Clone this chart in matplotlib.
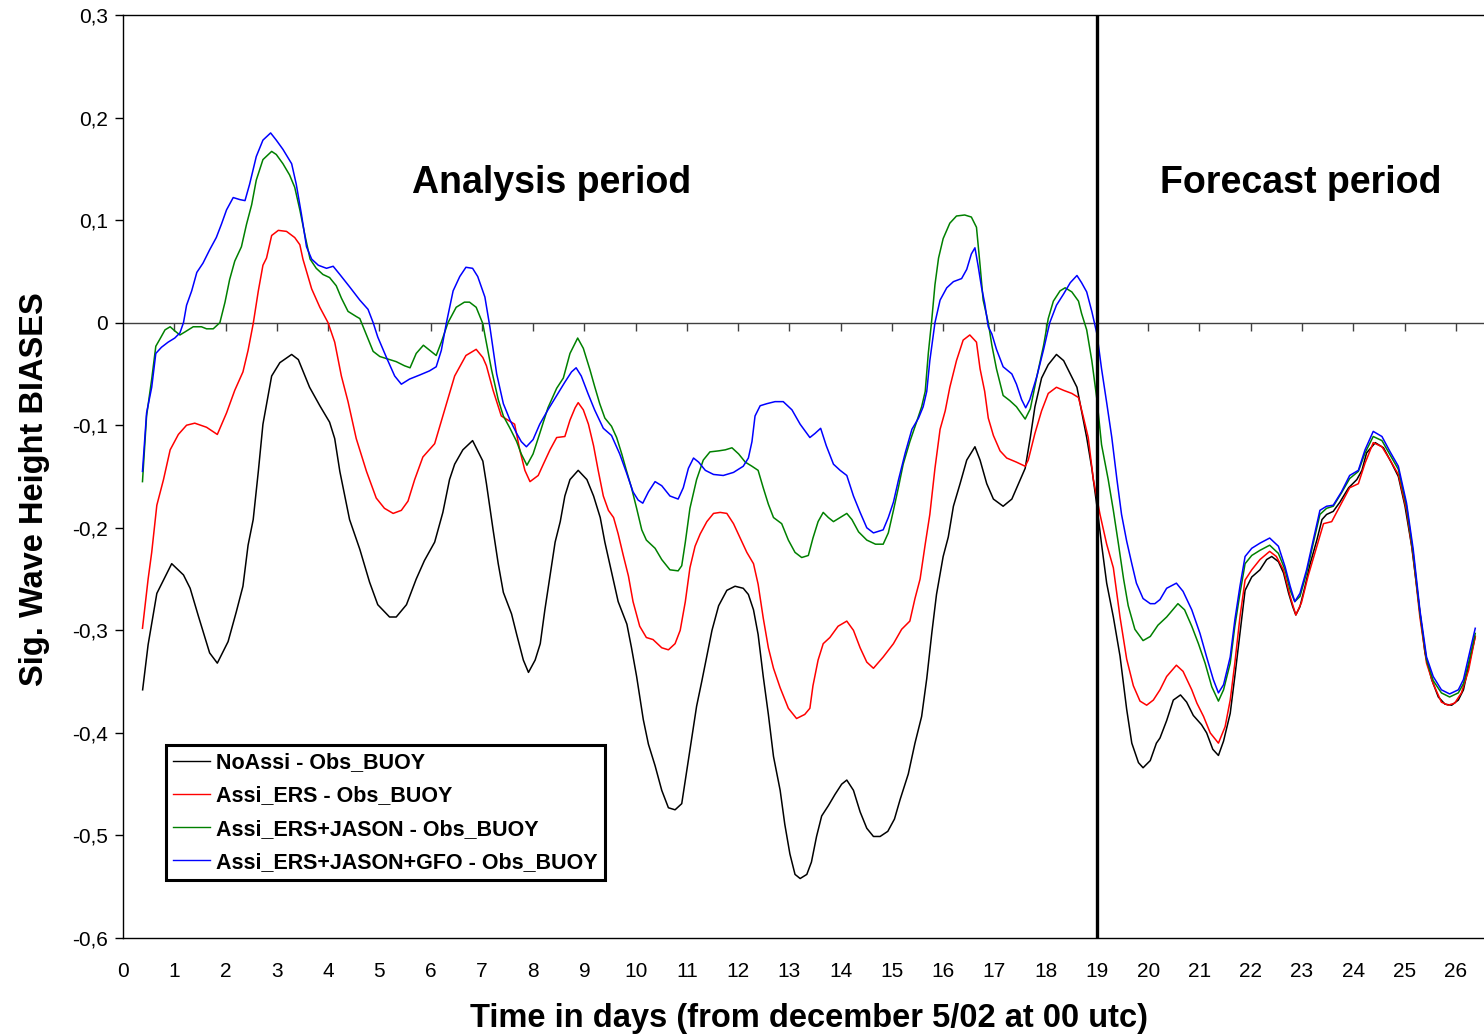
import numpy as np
import matplotlib
matplotlib.use("Agg")
import matplotlib.pyplot as plt
from matplotlib.ticker import FuncFormatter

plt.rcParams['font.family'] = ['Liberation Sans', 'DejaVu Sans']

# ---------------- data ----------------
noassi_days = [0.383, 0.49, 0.66, 0.95, 1.18, 1.31, 1.47, 1.69, 1.84, 2.05, 2.21, 2.34, 2.44, 2.54, 2.64, 2.73,
               2.90, 3.06, 3.29, 3.42, 3.64, 3.84, 4.03, 4.13, 4.23, 4.42, 4.62, 4.81, 4.97, 5.20, 5.33, 5.53,
               5.72, 5.88, 6.08, 6.24, 6.37, 6.47, 6.63, 6.82, 7.02, 7.09, 7.22, 7.32, 7.42, 7.58, 7.68, 7.81,
               7.91, 8.04, 8.14, 8.23, 8.33, 8.43, 8.53, 8.62, 8.72, 8.88, 9.05, 9.18, 9.31, 9.40, 9.53, 9.66,
               9.83, 9.92, 10.02, 10.15, 10.25, 10.38, 10.51, 10.64, 10.77, 10.90, 11.00, 11.10, 11.19, 11.29,
               11.39, 11.49, 11.62, 11.78, 11.94, 12.10, 12.20, 12.30, 12.39, 12.49, 12.59, 12.69, 12.82, 12.91,
               13.01, 13.11, 13.21, 13.34, 13.43, 13.53, 13.63, 13.76, 13.89, 14.02, 14.12, 14.25, 14.38, 14.51,
               14.64, 14.77, 14.92, 15.05, 15.16, 15.32, 15.45, 15.58, 15.68, 15.78, 15.87, 16.00, 16.10, 16.20,
               16.33, 16.46, 16.62, 16.72, 16.85, 16.98, 17.17, 17.34, 17.47, 17.60, 17.70, 17.79, 17.92, 18.05,
               18.21, 18.35, 18.48, 18.61, 18.70, 18.80, 18.90, 19.00, 19.09, 19.19, 19.32, 19.45, 19.58, 19.68,
               19.81, 19.90, 20.04, 20.16, 20.23, 20.36, 20.49, 20.63, 20.75, 20.88, 21.04, 21.14, 21.26, 21.37,
               21.47, 21.60, 21.69, 21.79, 21.89, 22.02, 22.18, 22.31, 22.41, 22.54, 22.64, 22.74, 22.82, 22.88,
               22.96, 23.06, 23.16, 23.29, 23.39, 23.48, 23.61, 23.74, 23.91, 24.07, 24.17, 24.26, 24.43, 24.59,
               24.75, 24.88, 25.01, 25.14, 25.27, 25.40, 25.53, 25.66, 25.79, 25.92, 26.05, 26.15, 26.25, 26.38]
noassi_bias = [-0.358, -0.314, -0.264, -0.235, -0.246, -0.259, -0.286, -0.322, -0.332, -0.311, -0.282, -0.257,
               -0.217, -0.192, -0.145, -0.099, -0.052, -0.039, -0.031, -0.036, -0.063, -0.081, -0.097, -0.113,
               -0.145, -0.192, -0.221, -0.253, -0.275, -0.287, -0.287, -0.275, -0.250, -0.232, -0.214, -0.185,
               -0.153, -0.138, -0.124, -0.115, -0.135, -0.157, -0.202, -0.235, -0.263, -0.284, -0.304, -0.329,
               -0.341, -0.329, -0.313, -0.280, -0.247, -0.214, -0.194, -0.169, -0.153, -0.144, -0.153, -0.169,
               -0.190, -0.214, -0.243, -0.272, -0.294, -0.317, -0.345, -0.387, -0.411, -0.432, -0.456, -0.473,
               -0.475, -0.469, -0.436, -0.403, -0.374, -0.350, -0.325, -0.300, -0.276, -0.261, -0.257, -0.259,
               -0.265, -0.280, -0.304, -0.345, -0.382, -0.423, -0.456, -0.489, -0.518, -0.538, -0.542, -0.538,
               -0.526, -0.501, -0.481, -0.471, -0.460, -0.450, -0.446, -0.456, -0.477, -0.493, -0.501, -0.501,
               -0.496, -0.484, -0.465, -0.440, -0.410, -0.384, -0.347, -0.302, -0.265, -0.228, -0.209, -0.179,
               -0.157, -0.134, -0.121, -0.134, -0.157, -0.172, -0.179, -0.172, -0.157, -0.142, -0.112, -0.082,
               -0.054, -0.041, -0.031, -0.037, -0.050, -0.063, -0.086, -0.112, -0.142, -0.179, -0.216, -0.254,
               -0.287, -0.325, -0.377, -0.410, -0.429, -0.434, -0.427, -0.410, -0.405, -0.388, -0.368, -0.363,
               -0.370, -0.383, -0.392, -0.400, -0.416, -0.422, -0.408, -0.381, -0.345, -0.303, -0.261, -0.248,
               -0.241, -0.231, -0.228, -0.233, -0.244, -0.264, -0.277, -0.285, -0.277, -0.257, -0.235, -0.212,
               -0.192, -0.187, -0.184, -0.175, -0.161, -0.153, -0.144, -0.127, -0.117, -0.122, -0.137, -0.150,
               -0.179, -0.218, -0.270, -0.322, -0.348, -0.365, -0.372, -0.373, -0.368, -0.358, -0.335, -0.306]

ers_days = [0.38, 0.49, 0.56, 0.66, 0.79, 0.92, 1.08, 1.24, 1.40, 1.63, 1.84, 2.02, 2.18, 2.34, 2.44, 2.54,
            2.64, 2.73, 2.80, 2.90, 3.03, 3.19, 3.35, 3.45, 3.51, 3.68, 3.84, 4.00, 4.13, 4.26, 4.39, 4.55,
            4.75, 4.94, 5.10, 5.27, 5.43, 5.56, 5.69, 5.85, 6.08, 6.24, 6.47, 6.69, 6.89, 7.02, 7.09, 7.22,
            7.38, 7.51, 7.64, 7.74, 7.84, 7.94, 8.10, 8.20, 8.33, 8.46, 8.62, 8.72, 8.82, 8.88, 8.98, 9.08,
            9.18, 9.27, 9.37, 9.47, 9.57, 9.66, 9.76, 9.86, 9.95, 10.08, 10.21, 10.34, 10.51, 10.64, 10.77,
            10.87, 10.97, 11.06, 11.16, 11.26, 11.39, 11.52, 11.65, 11.78, 11.91, 12.04, 12.17, 12.30, 12.39,
            12.49, 12.59, 12.69, 12.82, 12.98, 13.14, 13.30, 13.40, 13.46, 13.56, 13.66, 13.79, 13.95, 14.12,
            14.25, 14.38, 14.51, 14.64, 14.83, 15.03, 15.19, 15.35, 15.45, 15.55, 15.65, 15.74, 15.84, 15.94,
            16.04, 16.13, 16.26, 16.39, 16.52, 16.65, 16.72, 16.81, 16.88, 16.98, 17.11, 17.24, 17.43, 17.60,
            17.66, 17.79, 17.92, 18.05, 18.21, 18.35, 18.51, 18.64, 18.74, 18.83, 18.93, 19.06, 19.19, 19.32,
            19.45, 19.58, 19.71, 19.84, 19.97, 20.10, 20.23, 20.36, 20.55, 20.68, 20.85, 20.95, 21.08, 21.21,
            21.37, 21.50, 21.60, 21.69, 21.79, 21.89, 22.02, 22.18, 22.37, 22.50, 22.64, 22.77, 22.88, 22.99,
            23.12, 23.29, 23.42, 23.58, 23.74, 23.93, 24.10, 24.23, 24.39, 24.56, 24.72, 24.88, 25.04, 25.17,
            25.30, 25.43, 25.56, 25.72, 25.85, 25.98, 26.11, 26.25, 26.38]
ers_bias = [-0.298, -0.250, -0.224, -0.178, -0.153, -0.124, -0.109, -0.100, -0.098, -0.102, -0.109, -0.088,
            -0.066, -0.048, -0.027, -0.001, 0.031, 0.056, 0.063, 0.085, 0.090, 0.089, 0.083, 0.076, 0.062,
            0.033, 0.015, 0.000, -0.019, -0.052, -0.077, -0.113, -0.145, -0.171, -0.181, -0.186, -0.183,
            -0.174, -0.153, -0.131, -0.118, -0.091, -0.052, -0.032, -0.026, -0.034, -0.042, -0.066, -0.091,
            -0.095, -0.099, -0.124, -0.144, -0.155, -0.149, -0.138, -0.124, -0.112, -0.111, -0.095, -0.083,
            -0.078, -0.085, -0.099, -0.120, -0.144, -0.169, -0.183, -0.190, -0.206, -0.227, -0.247, -0.272,
            -0.296, -0.307, -0.309, -0.317, -0.319, -0.313, -0.300, -0.272, -0.239, -0.218, -0.206, -0.194,
            -0.186, -0.185, -0.186, -0.196, -0.210, -0.224, -0.235, -0.255, -0.288, -0.317, -0.337, -0.356,
            -0.376, -0.386, -0.382, -0.376, -0.354, -0.329, -0.313, -0.307, -0.296, -0.291, -0.300, -0.317,
            -0.331, -0.337, -0.326, -0.313, -0.299, -0.291, -0.269, -0.250, -0.216, -0.187, -0.142, -0.104,
            -0.086, -0.063, -0.037, -0.017, -0.012, -0.019, -0.045, -0.067, -0.093, -0.110, -0.125, -0.132,
            -0.136, -0.140, -0.134, -0.108, -0.086, -0.069, -0.063, -0.066, -0.069, -0.073, -0.093, -0.112,
            -0.153, -0.187, -0.216, -0.239, -0.287, -0.328, -0.354, -0.369, -0.373, -0.368, -0.358, -0.345,
            -0.334, -0.340, -0.358, -0.371, -0.384, -0.400, -0.410, -0.394, -0.368, -0.332, -0.287, -0.251,
            -0.241, -0.231, -0.223, -0.228, -0.241, -0.267, -0.285, -0.273, -0.247, -0.218, -0.196, -0.194,
            -0.179, -0.161, -0.157, -0.137, -0.117, -0.121, -0.134, -0.148, -0.183, -0.228, -0.287, -0.332,
            -0.352, -0.370, -0.373, -0.371, -0.361, -0.339, -0.306]

jason_days = [0.38, 0.46, 0.56, 0.64, 0.72, 0.82, 0.92, 1.01, 1.11, 1.21, 1.37, 1.53, 1.63, 1.76, 1.89, 1.99,
              2.08, 2.18, 2.31, 2.41, 2.51, 2.60, 2.73, 2.90, 2.99, 3.12, 3.25, 3.35, 3.45, 3.55, 3.65, 3.77,
              3.90, 4.03, 4.16, 4.26, 4.39, 4.55, 4.62, 4.75, 4.88, 5.01, 5.14, 5.33, 5.49, 5.60, 5.72, 5.86,
              6.01, 6.11, 6.21, 6.34, 6.50, 6.66, 6.76, 6.89, 7.02, 7.06, 7.19, 7.32, 7.42, 7.55, 7.68, 7.77,
              7.88, 8.00, 8.13, 8.29, 8.46, 8.59, 8.72, 8.87, 8.98, 9.11, 9.20, 9.30, 9.40, 9.53, 9.63, 9.73,
              9.82, 9.92, 10.02, 10.12, 10.21, 10.38, 10.51, 10.67, 10.83, 10.90, 10.97, 11.06, 11.19, 11.32,
              11.45, 11.62, 11.75, 11.88, 12.01, 12.14, 12.27, 12.39, 12.49, 12.59, 12.69, 12.85, 12.98, 13.11,
              13.24, 13.37, 13.46, 13.56, 13.66, 13.76, 13.86, 13.99, 14.12, 14.22, 14.35, 14.51, 14.68, 14.83,
              14.93, 15.03, 15.13, 15.22, 15.35, 15.48, 15.58, 15.65, 15.71, 15.78, 15.84, 15.91, 16.00, 16.13,
              16.26, 16.42, 16.55, 16.65, 16.72, 16.78, 16.88, 16.95, 17.04, 17.17, 17.30, 17.43, 17.60, 17.70,
              17.83, 17.96, 18.05, 18.15, 18.28, 18.38, 18.51, 18.64, 18.70, 18.80, 18.90, 19.00, 19.09, 19.22,
              19.32, 19.42, 19.52, 19.61, 19.74, 19.90, 20.04, 20.19, 20.36, 20.58, 20.71, 20.85, 20.98, 21.11,
              21.24, 21.37, 21.47, 21.60, 21.69, 21.79, 21.89, 22.02, 22.18, 22.37, 22.54, 22.67, 22.77, 22.86,
              22.96, 23.09, 23.22, 23.35, 23.48, 23.61, 23.77, 23.93, 24.10, 24.23, 24.39, 24.56, 24.72, 24.88,
              25.04, 25.17, 25.30, 25.43, 25.56, 25.72, 25.88, 26.05, 26.15, 26.25, 26.38]
jason_bias = [-0.155, -0.091, -0.055, -0.023, -0.016, -0.007, -0.004, -0.008, -0.012, -0.009, -0.004, -0.004,
              -0.006, -0.006, 0.000, 0.020, 0.042, 0.060, 0.074, 0.096, 0.115, 0.139, 0.159, 0.167, 0.164,
              0.155, 0.144, 0.132, 0.110, 0.085, 0.062, 0.053, 0.047, 0.044, 0.036, 0.024, 0.011, 0.006,
              0.004, -0.012, -0.028, -0.033, -0.035, -0.038, -0.042, -0.044, -0.030, -0.022, -0.028, -0.032,
              -0.019, 0.000, 0.015, 0.020, 0.020, 0.015, -0.001, -0.012, -0.046, -0.075, -0.091, -0.103,
              -0.116, -0.128, -0.139, -0.128, -0.108, -0.083, -0.064, -0.054, -0.030, -0.015, -0.025, -0.046,
              -0.062, -0.079, -0.093, -0.101, -0.112, -0.128, -0.144, -0.161, -0.181, -0.202, -0.212, -0.220,
              -0.231, -0.241, -0.242, -0.237, -0.214, -0.181, -0.153, -0.134, -0.126, -0.125, -0.124, -0.122,
              -0.128, -0.136, -0.140, -0.144, -0.161, -0.177, -0.190, -0.196, -0.212, -0.224, -0.229, -0.227,
              -0.210, -0.194, -0.185, -0.190, -0.194, -0.190, -0.186, -0.192, -0.204, -0.212, -0.216, -0.216,
              -0.205, -0.183, -0.160, -0.138, -0.116, -0.097, -0.082, -0.067, -0.030, 0.004, 0.037, 0.063,
              0.082, 0.097, 0.104, 0.105, 0.103, 0.093, 0.056, 0.022, 0.000, -0.022, -0.045, -0.071, -0.076,
              -0.082, -0.094, -0.084, -0.052, -0.022, 0.004, 0.021, 0.031, 0.034, 0.030, 0.021, 0.009, -0.007,
              -0.037, -0.075, -0.119, -0.153, -0.183, -0.216, -0.250, -0.276, -0.299, -0.310, -0.306, -0.295,
              -0.287, -0.274, -0.280, -0.296, -0.313, -0.332, -0.355, -0.369, -0.358, -0.332, -0.296, -0.264,
              -0.235, -0.227, -0.222, -0.217, -0.225, -0.241, -0.261, -0.272, -0.267, -0.244, -0.215, -0.187,
              -0.181, -0.179, -0.166, -0.152, -0.145, -0.127, -0.111, -0.115, -0.129, -0.143, -0.179, -0.225,
              -0.283, -0.329, -0.349, -0.361, -0.365, -0.361, -0.352, -0.332, -0.303]

gfo_days = [0.38, 0.46, 0.56, 0.64, 0.75, 0.88, 1.01, 1.11, 1.18, 1.24, 1.34, 1.44, 1.56, 1.69, 1.82, 1.92,
            2.02, 2.15, 2.28, 2.38, 2.47, 2.60, 2.73, 2.88, 2.99, 3.12, 3.29, 3.38, 3.48, 3.58, 3.68, 3.81,
            3.97, 4.10, 4.23, 4.42, 4.62, 4.78, 4.88, 4.97, 5.14, 5.30, 5.43, 5.59, 5.79, 5.98, 6.11, 6.21,
            6.31, 6.44, 6.57, 6.69, 6.82, 6.92, 7.06, 7.16, 7.29, 7.42, 7.55, 7.68, 7.77, 7.87, 8.00, 8.13,
            8.29, 8.46, 8.62, 8.75, 8.84, 8.94, 9.07, 9.20, 9.37, 9.53, 9.69, 9.82, 9.95, 10.05, 10.14,
            10.25, 10.38, 10.51, 10.67, 10.83, 10.93, 11.03, 11.13, 11.23, 11.36, 11.52, 11.71, 11.91, 12.10,
            12.20, 12.27, 12.33, 12.43, 12.56, 12.72, 12.88, 13.05, 13.21, 13.40, 13.50, 13.61, 13.72, 13.86,
            13.99, 14.12, 14.25, 14.38, 14.51, 14.64, 14.83, 14.93, 15.03, 15.13, 15.26, 15.39, 15.52, 15.61,
            15.68, 15.74, 15.84, 15.94, 16.07, 16.20, 16.36, 16.46, 16.55, 16.62, 16.68, 16.75, 16.81, 16.88,
            16.95, 17.04, 17.17, 17.34, 17.43, 17.53, 17.61, 17.69, 17.83, 17.96, 18.08, 18.21, 18.35, 18.48,
            18.61, 18.70, 18.80, 18.90, 19.00, 19.09, 19.19, 19.29, 19.39, 19.48, 19.58, 19.68, 19.77, 19.90,
            20.04, 20.13, 20.23, 20.36, 20.55, 20.68, 20.85, 21.01, 21.14, 21.27, 21.37, 21.47, 21.60, 21.69,
            21.79, 21.89, 22.02, 22.18, 22.37, 22.54, 22.67, 22.77, 22.86, 22.96, 23.09, 23.22, 23.35, 23.48,
            23.61, 23.77, 23.93, 24.10, 24.23, 24.39, 24.56, 24.72, 24.88, 25.04, 25.17, 25.30, 25.43, 25.56,
            25.72, 25.88, 26.05, 26.15, 26.25, 26.38]
gfo_bias = [-0.145, -0.088, -0.063, -0.030, -0.024, -0.019, -0.015, -0.010, 0.000, 0.017, 0.031, 0.049, 0.058,
            0.071, 0.083, 0.096, 0.110, 0.122, 0.120, 0.119, 0.135, 0.162, 0.178, 0.185, 0.178, 0.169, 0.155,
            0.135, 0.106, 0.074, 0.062, 0.056, 0.053, 0.055, 0.047, 0.035, 0.022, 0.013, 0.000, -0.014,
            -0.034, -0.052, -0.060, -0.055, -0.051, -0.047, -0.043, -0.027, 0.000, 0.031, 0.045, 0.054,
            0.053, 0.045, 0.025, -0.005, -0.050, -0.079, -0.095, -0.108, -0.116, -0.121, -0.114, -0.099,
            -0.085, -0.071, -0.058, -0.048, -0.044, -0.052, -0.069, -0.085, -0.103, -0.110, -0.128, -0.146,
            -0.165, -0.173, -0.176, -0.165, -0.155, -0.159, -0.169, -0.172, -0.161, -0.142, -0.132, -0.136,
            -0.144, -0.148, -0.149, -0.146, -0.140, -0.132, -0.116, -0.091, -0.081, -0.079, -0.077, -0.077,
            -0.085, -0.099, -0.112, -0.108, -0.103, -0.120, -0.138, -0.144, -0.149, -0.169, -0.185, -0.200,
            -0.205, -0.202, -0.190, -0.175, -0.153, -0.127, -0.104, -0.093, -0.082, -0.067, -0.037, 0.000,
            0.022, 0.034, 0.040, 0.043, 0.052, 0.067, 0.073, 0.056, 0.034, 0.019, -0.004, -0.011, -0.026,
            -0.043, -0.050, -0.060, -0.075, -0.083, -0.075, -0.052, -0.026, 0.000, 0.017, 0.028, 0.039,
            0.046, 0.039, 0.030, 0.011, -0.011, -0.045, -0.078, -0.112, -0.153, -0.187, -0.213, -0.235,
            -0.254, -0.269, -0.274, -0.274, -0.270, -0.259, -0.254, -0.262, -0.280, -0.303, -0.326, -0.348,
            -0.361, -0.353, -0.326, -0.290, -0.257, -0.228, -0.220, -0.215, -0.210, -0.218, -0.238, -0.257,
            -0.272, -0.264, -0.241, -0.212, -0.183, -0.179, -0.178, -0.165, -0.149, -0.144, -0.124, -0.106,
            -0.111, -0.126, -0.140, -0.176, -0.221, -0.280, -0.326, -0.345, -0.358, -0.362, -0.358, -0.348,
            -0.326, -0.298]

series_labels = ["NoAssi - Obs_BUOY", "Assi_ERS - Obs_BUOY",
                 "Assi_ERS+JASON - Obs_BUOY", "Assi_ERS+JASON+GFO - Obs_BUOY"]
series_colors = ["#000000", "#FF0000", "#008000", "#0000FF"]
x_tick_values = list(range(0, 27))
y_tick_values = [-0.6, -0.5, -0.4, -0.3, -0.2, -0.1, 0.0, 0.1, 0.2, 0.3]
forecast_start = 19
period_labels = ["Analysis period", "Forecast period"]
period_label_x = [8.37, 22.98]
period_label_y = 0.136

# ---------------- figure ----------------
fig = plt.figure(figsize=(14.84, 10.34), dpi=100)
ax = fig.add_axes([123 / 1484, 1 - 938 / 1034, (1484 - 123) / 1484, (938 - 15) / 1034])
ax.set_xlim(0, (1484 - 123) / 51.26)
ax.set_ylim(-0.6, 0.3)

all_days = [noassi_days, ers_days, jason_days, gfo_days]
all_bias = [noassi_bias, ers_bias, jason_bias, gfo_bias]
for d, b, lab, col in zip(all_days, all_bias, series_labels, series_colors):
    ax.plot(d, b, color=col, lw=1.1, label=lab, solid_joinstyle='round')

# zero line with Excel-style tick marks
ax.axhline(0, color='#404040', lw=1.0, zorder=1)
xt = np.array(x_tick_values[1:], dtype=float)
ax.plot(xt, np.zeros_like(xt), linestyle='none', marker=3, ms=6, mew=1.0,
        color='#404040', zorder=1)

# forecast start line
ax.axvline(forecast_start, color='black', lw=2.4, zorder=3)

# spines
for s in ['left', 'top', 'bottom']:
    ax.spines[s].set_color('black')
    ax.spines[s].set_linewidth(1.0)
ax.spines['right'].set_visible(False)

ax.set_xticks(x_tick_values)
ax.set_xticklabels([str(v) for v in x_tick_values])
ax.tick_params(axis='x', length=0, pad=17, labelsize=15)
ax.set_yticks(y_tick_values)


def fmt(v, pos):
    if abs(v) < 1e-9:
        return "0"
    return f"{v:.1f}".replace('.', ',')


ax.yaxis.set_major_formatter(FuncFormatter(fmt))
ax.tick_params(axis='y', direction='out', length=6, width=1, pad=5, labelsize=15)

for lab, xx in zip(period_labels, period_label_x):
    ax.text(xx, period_label_y, lab, ha='center', va='center', fontsize=27, fontweight='bold')

ax.set_xlabel("Time in days (from december 5/02 at 00 utc)", fontsize=23.5, fontweight='bold', va='center')
ax.xaxis.set_label_coords((809 - 123) / 1361, (938 - 1018) / 923)
ax.set_ylabel("Sig. Wave Height BIASES", fontsize=23.5, fontweight='bold', va='center')
ax.yaxis.set_label_coords((35 - 123) / 1361, (938 - 489) / 923)

leg = ax.legend(loc='upper left', bbox_to_anchor=((166 - 123) / 1361, (938 - 745) / 923),
                frameon=True, fancybox=False, edgecolor='black', framealpha=1,
                prop={'weight': 'bold', 'size': 15.5}, handlelength=1.7, handletextpad=0.3,
                labelspacing=0.57, borderpad=0.33, borderaxespad=0)
leg.get_frame().set_linewidth(2.2)
for h in leg.get_lines():
    h.set_linewidth(1.0)

fig.savefig("out.png", dpi=100)
